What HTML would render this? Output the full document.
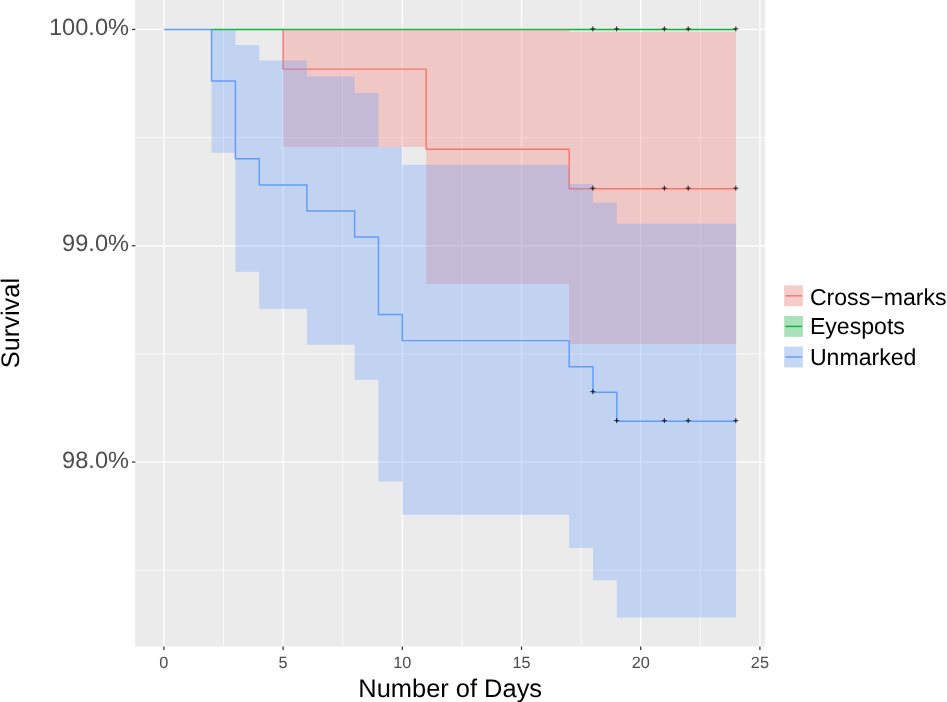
<!DOCTYPE html>
<html lang="en"><head><meta charset="utf-8"><title>Survival</title>
<style>html,body{margin:0;padding:0;background:#fff}svg{display:block;will-change:transform;opacity:0.999}text{text-rendering:geometricPrecision;font-family:"Liberation Sans",sans-serif}</style>
</head><body>
<svg width="947" height="702" viewBox="0 0 947 702">
<rect x="0" y="0" width="947" height="702" fill="#FFFFFF"/>
<rect x="135.15" y="0" width="629.75" height="646.5" fill="#EBEBEB"/>
<g stroke="#FFFFFF" stroke-width="0.75" fill="none">
<line x1="223.5" x2="223.5" y1="0" y2="646.5"/>
<line x1="342.7" x2="342.7" y1="0" y2="646.5"/>
<line x1="461.9" x2="461.9" y1="0" y2="646.5"/>
<line x1="581.1" x2="581.1" y1="0" y2="646.5"/>
<line x1="700.3" x2="700.3" y1="0" y2="646.5"/>
<line x1="135.15" x2="764.9" y1="137.6" y2="137.6"/>
<line x1="135.15" x2="764.9" y1="353.9" y2="353.9"/>
<line x1="135.15" x2="764.9" y1="570.2" y2="570.2"/>
</g>
<g stroke="#FFFFFF" stroke-width="1.3" fill="none">
<line x1="163.9" x2="163.9" y1="0" y2="646.5"/>
<line x1="283.1" x2="283.1" y1="0" y2="646.5"/>
<line x1="402.3" x2="402.3" y1="0" y2="646.5"/>
<line x1="521.5" x2="521.5" y1="0" y2="646.5"/>
<line x1="640.7" x2="640.7" y1="0" y2="646.5"/>
<line x1="759.9" x2="759.9" y1="0" y2="646.5"/>
<line x1="135.15" x2="764.9" y1="29.45" y2="29.45"/>
<line x1="135.15" x2="764.9" y1="245.75" y2="245.75"/>
<line x1="135.15" x2="764.9" y1="462.05" y2="462.05"/>
</g>
<g fill="none" stroke-width="1.45" stroke-linejoin="round" stroke-linecap="butt">
<path stroke="#619CFF" d="M163.9,29.45 H211.58 V81.0 H235.42 V158.7 H259.26 V184.9 H306.94 V210.9 H354.62 V237.0 H378.46 V314.4 H402.3 V340.6 H569.18 V366.7 H593.02 V392.3 H616.86 V421.2 H736.06"/>
<path stroke="#F8766D" d="M283.1,29.45 V69.1 H426.14 V149.25 H569.18 V188.8 H736.06"/>
<path stroke="#00BA38" d="M211.58,29.45 H736.06"/>
</g>
<g stroke="none" fill-opacity="0.3">
<path fill="#F8766D" d="M283.1,29.45 H569.18 V31.8 H736.06 V344.0 H569.18 V283.9 H426.14 V147.0 H283.1 Z"/>
<path fill="#619CFF" d="M211.58,29.45 H235.42 V45.1 H259.26 V60.55 H306.94 V76.4 H354.62 V93.1 H378.46 V147.0 H402.3 V164.85 H569.18 V183.9 H593.02 V202.85 H616.86 V223.8 H736.06 V617.4 H616.86 V580.2 H593.02 V547.9 H569.18 V514.8 H402.3 V481.6 H378.46 V379.8 H354.62 V344.7 H306.94 V308.8 H259.26 V271.7 H235.42 V152.8 H211.58 Z"/>
</g>
<g stroke="#000000" stroke-width="0.85" fill="none">
<path d="M590.32,28.85 H595.32 M592.82,26.35 V31.35"/>
<path d="M614.16,28.85 H619.16 M616.66,26.35 V31.35"/>
<path d="M661.84,28.85 H666.84 M664.34,26.35 V31.35"/>
<path d="M685.68,28.85 H690.68 M688.18,26.35 V31.35"/>
<path d="M733.36,28.85 H738.36 M735.86,26.35 V31.35"/>
<path d="M590.32,188.2 H595.32 M592.82,185.7 V190.7"/>
<path d="M661.84,188.2 H666.84 M664.34,185.7 V190.7"/>
<path d="M685.68,188.2 H690.68 M688.18,185.7 V190.7"/>
<path d="M733.36,188.2 H738.36 M735.86,185.7 V190.7"/>
<path d="M590.32,391.7 H595.32 M592.82,389.2 V394.2"/>
<path d="M614.16,420.6 H619.16 M616.66,418.1 V423.1"/>
<path d="M661.84,420.6 H666.84 M664.34,418.1 V423.1"/>
<path d="M685.68,420.6 H690.68 M688.18,418.1 V423.1"/>
<path d="M733.36,420.6 H738.36 M735.86,418.1 V423.1"/>
</g>
<g stroke="#333333" stroke-width="1.25" fill="none">
<line x1="131.95" x2="135.35" y1="29.45" y2="29.45"/>
<line x1="131.95" x2="135.35" y1="245.75" y2="245.75"/>
<line x1="131.95" x2="135.35" y1="462.05" y2="462.05"/>
<line x1="163.9" x2="163.9" y1="646.5" y2="649.9"/>
<line x1="283.1" x2="283.1" y1="646.5" y2="649.9"/>
<line x1="402.3" x2="402.3" y1="646.5" y2="649.9"/>
<line x1="521.5" x2="521.5" y1="646.5" y2="649.9"/>
<line x1="640.7" x2="640.7" y1="646.5" y2="649.9"/>
<line x1="759.9" x2="759.9" y1="646.5" y2="649.9"/>
</g>
<g fill="#4D4D4D" font-size="23.6" text-anchor="end">
<text x="129" y="35.05">100.0%</text>
<text x="129" y="251.35">99.0%</text>
<text x="129" y="467.65">98.0%</text>
</g>
<g fill="#4D4D4D" font-size="16.3" text-anchor="middle">
<text x="163.9" y="668.0">0</text>
<text x="283.1" y="668.0">5</text>
<text x="402.3" y="668.0">10</text>
<text x="521.5" y="668.0">15</text>
<text x="640.7" y="668.0">20</text>
<text x="759.9" y="668.0">25</text>
</g>
<text x="450.2" y="696.6" font-size="25.45" text-anchor="middle" fill="#000">Number of Days</text>
<text transform="translate(19.2,323.1) rotate(-90)" font-size="25.4" text-anchor="middle" fill="#000">Survival</text>
<rect x="784.2" y="285.4" width="18.7" height="20.8" fill="#F2F2F2"/>
<line x1="785.4" x2="801.9" y1="295.79999999999995" y2="295.79999999999995" stroke="#F8766D" stroke-width="1.45"/>
<rect x="784.2" y="285.4" width="18.7" height="20.8" fill="#F8766D" fill-opacity="0.3"/>
<text x="809.9" y="304.5" font-size="23.1" fill="#000">Cross−marks</text>
<rect x="784.2" y="316.0" width="18.7" height="20.8" fill="#F2F2F2"/>
<line x1="785.4" x2="801.9" y1="326.4" y2="326.4" stroke="#00BA38" stroke-width="1.45"/>
<rect x="784.2" y="316.0" width="18.7" height="20.8" fill="#00BA38" fill-opacity="0.3"/>
<text x="809.9" y="334.2" font-size="23.1" fill="#000">Eyespots</text>
<rect x="784.2" y="346.6" width="18.7" height="20.8" fill="#F2F2F2"/>
<line x1="785.4" x2="801.9" y1="357.0" y2="357.0" stroke="#619CFF" stroke-width="1.45"/>
<rect x="784.2" y="346.6" width="18.7" height="20.8" fill="#619CFF" fill-opacity="0.3"/>
<text x="809.9" y="365.2" font-size="23.1" fill="#000">Unmarked</text>
</svg>
</body></html>
